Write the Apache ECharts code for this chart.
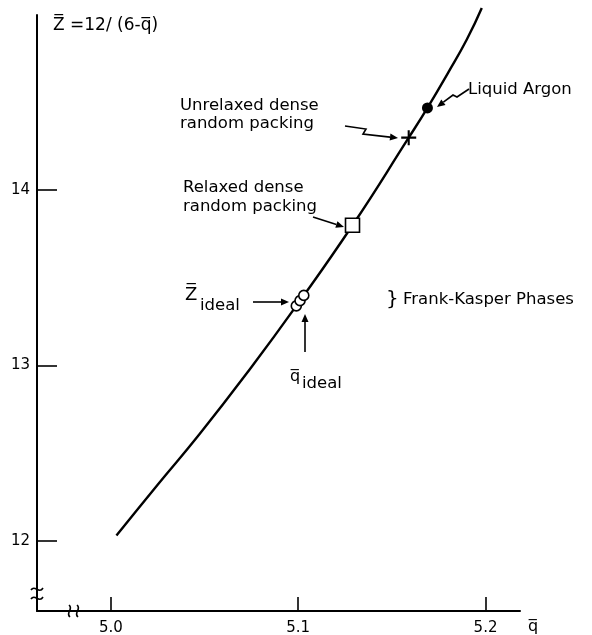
<!DOCTYPE html>
<html>
<head>
<meta charset="utf-8">
<script src="https://cdn.jsdelivr.net/npm/echarts@6/dist/echarts.min.js"></script>
<style>html,body{margin:0;padding:0;background:#fff;}#c{width:592px;height:635px;}</style>
</head>
<body>
<div id="c"></div>
<script>
// ---- data ----
const curveQ = [5.003, 5.025, 5.0475, 5.075, 5.099, 5.129, 5.159, 5.169, 5.18, 5.19, 5.198];
const curveZ = [12.03, 12.32, 12.61, 12.99, 13.34, 13.80, 14.30, 14.47, 14.67, 14.86, 15.04];
const idealQ = [5.099, 5.101, 5.103];
const idealZ = [13.34, 13.37, 13.40];
const relaxedQ = [5.129];
const relaxedZ = [13.80];
const unrelaxedQ = [5.159];
const unrelaxedZ = [14.30];
const argonQ = [5.169];
const argonZ = [14.47];
const xTicks = [5.0, 5.1, 5.2];
const yTicks = [12, 13, 14];

const pairs = (a, b) => a.map((v, i) => [v, b[i]]);
const FONT = '"DejaVu Sans", sans-serif';
const FS = 16.5;

function arrow(points, headLen, headW) {
  headLen = headLen || 8; headW = headW || 3.5;
  const n = points.length;
  const p1 = points[n - 2], p2 = points[n - 1];
  const dx = p2[0] - p1[0], dy = p2[1] - p1[1];
  const L = Math.hypot(dx, dy), ux = dx / L, uy = dy / L;
  const bx = p2[0] - ux * headLen, by = p2[1] - uy * headLen;
  const nx = -uy, ny = ux;
  const line = points.slice(0, n - 1).concat([[bx, by]]);
  return [
    { type: 'polyline', shape: { points: line }, style: { stroke: '#000', lineWidth: 1.6, fill: null } },
    { type: 'polygon', shape: { points: [p2, [bx + nx * headW, by + ny * headW], [bx - nx * headW, by - ny * headW]] }, style: { fill: '#000' } }
  ];
}
function txt(t, x, y, size, align) {
  return { type: 'text', style: { text: t, x: x, y: y, font: (size || FS) + 'px ' + FONT, fill: '#000', align: align || 'left', verticalAlign: 'middle' } };
}
function bez(x1, y1, c1x, c1y, c2x, c2y, x2, y2) {
  return { type: 'bezierCurve', shape: { x1: x1, y1: y1, cpx1: c1x, cpy1: c1y, cpx2: c2x, cpy2: c2y, x2: x2, y2: y2 }, style: { stroke: '#000', lineWidth: 1.6, fill: null } };
}

const graphics = [].concat(
  [txt('Z\u0305 =12/ (6-q\u0305)', 53, 26, 17)],
  [txt('Unrelaxed dense', 180, 106), txt('random packing', 180, 124)],
  arrow([[345, 126], [366, 129], [363, 134], [398, 138]]),
  [txt('Liquid Argon', 468, 90)],
  arrow([[469, 89], [457, 97], [453, 95], [437, 107]]),
  [txt('Relaxed dense', 183, 188), txt('random packing', 183, 207)],
  arrow([[313, 217], [344, 227]]),
  [txt('Z\u0305', 185, 295, 18), txt('ideal', 200, 306)],
  arrow([[253, 302], [289, 302]]),
  [txt('q\u0305', 290, 377, 16), txt('ideal', 302, 384)],
  arrow([[305, 352], [305, 314]]),
  [txt('}', 386, 300, 20), txt('Frank-Kasper Phases', 403, 300)],
  [bez(31, 590, 35, 584, 39, 595, 43, 588), bez(31, 599, 35, 593, 39, 604, 43, 597)],
  [bez(69, 605, 74, 609, 65, 613, 70, 617), bez(77, 605, 82, 609, 73, 613, 78, 617)]
);

const chart = echarts.init(document.getElementById('c'), null, { renderer: 'canvas' });
chart.setOption({
  animation: false,
  backgroundColor: '#fff',
  grid: { left: 37, top: 15, right: 72, bottom: 24, containLabel: false, outerBoundsMode: 'none' },
  xAxis: {
    type: 'value', min: 4.9606, max: 5.2184,
    name: 'q\u0305', nameLocation: 'end', nameGap: 8,
    nameTextStyle: { fontFamily: FONT, fontSize: 16, color: '#000', verticalAlign: 'top', padding: [8, 0, 0, 0] },
    axisLine: { lineStyle: { color: '#000', width: 2 } },
    axisTick: { show: true, inside: true, length: 14, customValues: xTicks, lineStyle: { color: '#000', width: 1.6 } },
    axisLabel: { customValues: xTicks, formatter: v => v.toFixed(1), margin: 10, fontFamily: FONT, fontSize: 15, color: '#000' },
    splitLine: { show: false }
  },
  yAxis: {
    type: 'value', min: 11.599, max: 15.0,
    axisLine: { show: true, lineStyle: { color: '#000', width: 2 } },
    axisTick: { show: true, inside: true, length: 20, customValues: yTicks, lineStyle: { color: '#000', width: 1.6 } },
    axisLabel: { customValues: yTicks, formatter: v => String(Math.round(v)), margin: 7, fontFamily: FONT, fontSize: 15, color: '#000' },
    splitLine: { show: false }
  },
  series: [
    { type: 'line', data: pairs(curveQ, curveZ), showSymbol: false, smooth: 0.5, clip: false,
      lineStyle: { color: '#000', width: 2.4 }, z: 2 },
    { type: 'scatter', data: pairs(idealQ, idealZ), symbol: 'circle', symbolSize: 10,
      itemStyle: { color: '#fff', borderColor: '#000', borderWidth: 1.6, opacity: 1 }, z: 3 },
    { type: 'scatter', data: pairs(relaxedQ, relaxedZ), symbol: 'rect', symbolSize: 14,
      itemStyle: { color: '#fff', borderColor: '#000', borderWidth: 1.6, opacity: 1 }, z: 3 },
    { type: 'scatter', data: pairs(unrelaxedQ, unrelaxedZ),
      symbol: 'path://M4.3,0h1.4v4.3h4.3v1.4h-4.3v4.3h-1.4v-4.3h-4.3v-1.4h4.3z', symbolSize: 15,
      itemStyle: { color: '#000', opacity: 1 }, z: 3 },
    { type: 'scatter', data: pairs(argonQ, argonZ), symbol: 'circle', symbolSize: 11,
      itemStyle: { color: '#000', opacity: 1 }, z: 3 }
  ],
  graphic: graphics
});
</script>
</body>
</html>
